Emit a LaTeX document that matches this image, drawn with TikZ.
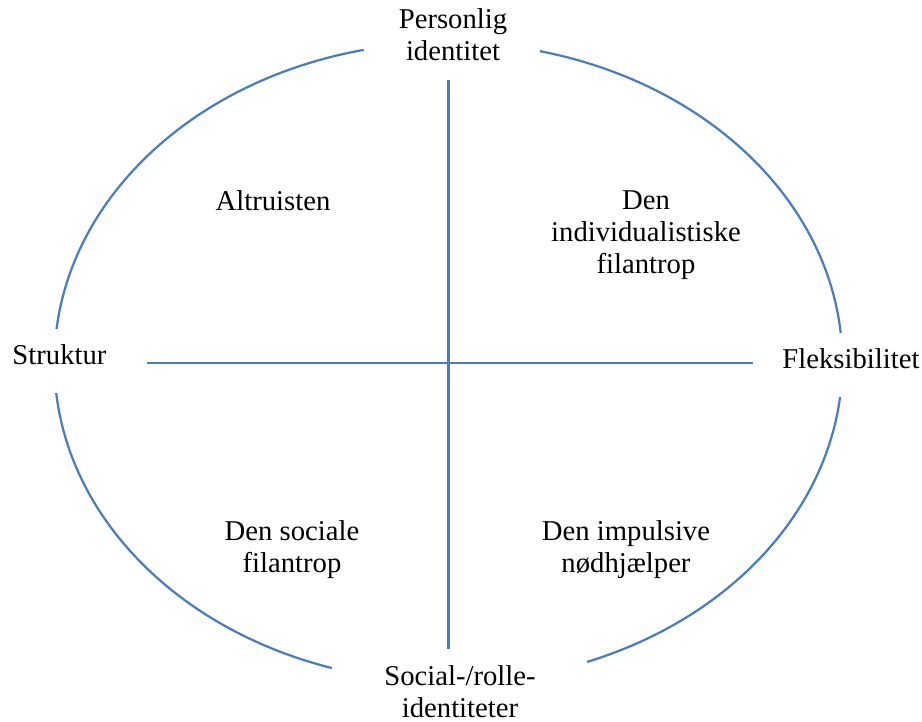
\documentclass[tikz,border=0pt]{standalone}
\usepackage{fontspec}
\setmainfont{Liberation Serif}
\usepackage{tikz}
\definecolor{axisblue}{RGB}{74,126,187}

\begin{document}
\begin{tikzpicture}[
		axisline/.style = {draw = axisblue, line width = 1.6pt},
		label/.style = {anchor = north, inner sep = 0pt, align = center, font = {\fontsize{20.4pt}{22.8pt}\selectfont}}
	]
	\useasboundingbox (0, 0) rectangle (23.05, 18.05);
	\coordinate (o) at (11.21, 8.99);
	\coordinate (top) at (11.21, 16.05);
	\coordinate (bottom) at (11.21, 1.825);
	\coordinate (left) at (3.675, 8.98);
	\coordinate (right) at (18.825, 8.98);
	% akser
	\draw[axisline] (top) -- (bottom);
	\draw[axisline] (left) -- (right);
	% ellipse med huller til teksterne
	\draw[axisline] ([shift = {(5.3:9.85cm and 8cm)}] o) arc[start angle = 5.3, end angle = 76.6, x radius = 9.85cm, y radius = 8cm];
	\draw[axisline] ([shift = {(102.4:9.85cm and 8cm)}] o) arc[start angle = 102.4, end angle = 174, x radius = 9.85cm, y radius = 8cm];
	\draw[axisline] ([shift = {(185.5:9.85cm and 8cm)}] o) arc[start angle = 185.5, end angle = 252.8, x radius = 9.85cm, y radius = 8cm];
	\draw[axisline] ([shift = {(290.6:9.85cm and 8cm)}] o) arc[start angle = 290.6, end angle = 353.8, x radius = 9.85cm, y radius = 8cm];
	% akse-tekster
	\node[label] (personlig) at (11.325, 17.835) {Personlig\\identitet};
	\node[label] (struktur) at (1.4875, 9.435) {Struktur};
	\node[label] (fleks) at (21.275, 9.335) {Fleksibilitet};
	\node[label] (social) at (11.5, 1.41) {Social-/rolle-\\identiteter};
	% kvadranter
	\node[label] (altruist) at (6.825, 13.285) {Altruisten};
	\node[label] (individ) at (16.15, 13.285) {Den\\individualistiske\\filantrop};
	\node[label] (socfil) at (7.3, 5.035) {Den sociale\\filantrop};
	\node[label] (impuls) at (15.65, 5.035) {Den impulsive\\nødhjælper};
\end{tikzpicture}
\end{document}
